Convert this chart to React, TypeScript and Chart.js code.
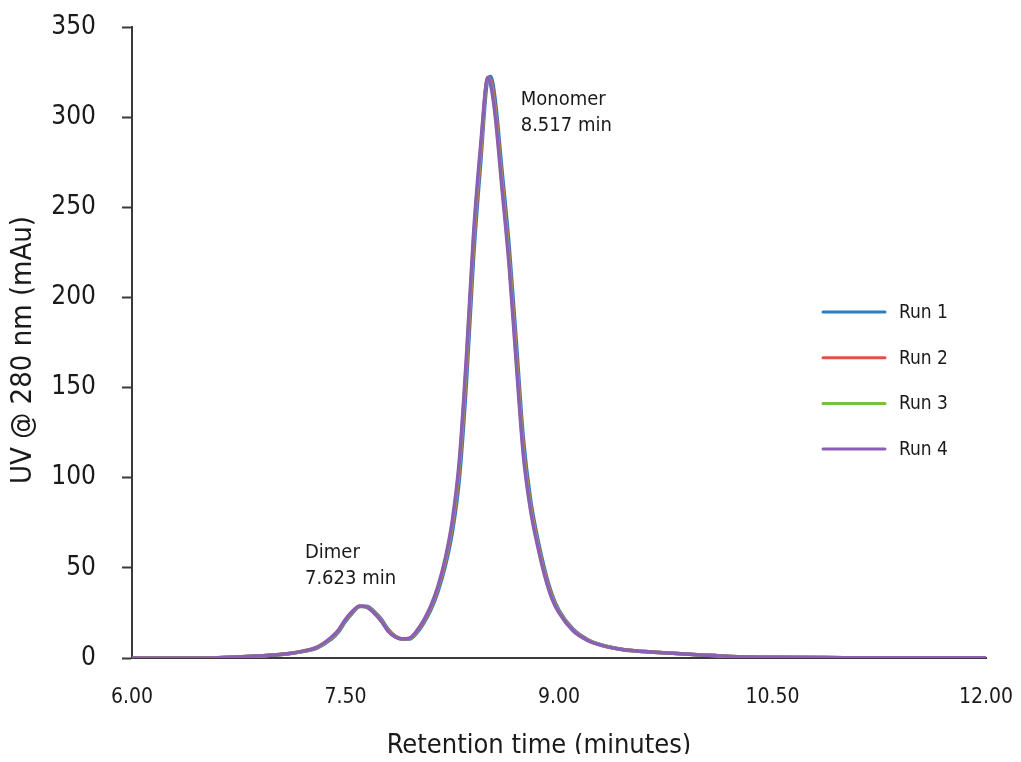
import React, { useEffect, useRef } from 'react';
import { Chart, registerables } from 'chart.js';

Chart.register(...registerables);

const FONT = "'DejaVu Sans Condensed', 'Liberation Sans Narrow', sans-serif";

const retentionTimes = [6.0, 6.3, 6.6, 6.8, 7.0, 7.1, 7.2, 7.3, 7.4, 7.45, 7.5, 7.55, 7.6, 7.65, 7.7, 7.75, 7.8, 7.85, 7.9, 7.95, 8.0, 8.05, 8.1, 8.15, 8.2, 8.25, 8.3, 8.35, 8.4, 8.45, 8.5, 8.52, 8.55, 8.6, 8.65, 8.7, 8.75, 8.8, 8.85, 8.9, 8.95, 9.0, 9.1, 9.2, 9.3, 9.45, 9.6, 9.8, 10.0, 10.2, 10.5, 11.0, 11.5, 12.0];

const run1 = [0, 0, 0.2, 0.75, 1.6, 2.35, 3.55, 5.5, 10.4, 14.3, 20.2, 25.1, 28.5, 28.7, 25.9, 21.7, 15.9, 12.1, 10.6, 10.5, 13.8, 19.4, 26.7, 36.9, 50.7, 69.4, 99.2, 152.9, 222, 274.7, 321, 322.5, 310.7, 270.2, 228.6, 175.6, 121.7, 88.1, 66.4, 49, 35.5, 26.4, 15.9, 10.3, 7.2, 4.7, 3.6, 2.6, 1.7, 0.9, 0.4, 0.2, 0.1, 0.1];
const run2 = [0, 0, 0.2, 0.8, 1.7, 2.4, 3.7, 5.8, 11.0, 14.9, 20.9, 25.6, 28.7, 28.5, 25.5, 21.1, 15.4, 11.9, 10.6, 10.8, 14.4, 20.2, 27.9, 38.5, 52.9, 72.7, 104.6, 160.5, 229, 279.9, 321.5, 320.3, 306.4, 265.1, 222.8, 169.3, 116.9, 85.1, 64.2, 47.3, 34.3, 25.7, 15.5, 10.1, 7.1, 4.7, 3.6, 2.6, 1.7, 0.9, 0.4, 0.2, 0.1, 0.1];
const run3 = [0, 0, 0.2, 0.8, 1.7, 2.5, 3.7, 5.9, 11.2, 15.2, 21.2, 25.8, 28.7, 28.3, 25.2, 20.8, 15.1, 11.7, 10.5, 10.9, 14.7, 20.6, 28.4, 39.2, 53.9, 74.4, 107.3, 164.2, 232.5, 282.4, 321.8, 319.1, 304.2, 262.6, 219.9, 166.2, 114.4, 83.5, 63.1, 46.4, 33.6, 25.4, 15.2, 9.9, 7.1, 4.6, 3.6, 2.6, 1.7, 0.9, 0.4, 0.2, 0.1, 0.1];
const run4 = [0, 0, 0.2, 0.8, 1.7, 2.5, 3.8, 6.0, 11.5, 15.5, 21.5, 26, 28.8, 28.2, 25, 20.5, 14.8, 11.6, 10.5, 11, 15, 21, 29, 40, 55, 76, 110, 168, 236, 285, 322, 318, 302, 260, 217, 163, 112, 82, 62, 45.5, 33, 25, 15, 9.8, 7, 4.6, 3.6, 2.6, 1.7, 0.9, 0.4, 0.2, 0.1, 0.1];

const runLabels = ['Run 1', 'Run 2', 'Run 3', 'Run 4'];
const runColors = ['#2c7dc4', '#e5514a', '#7cbf3a', '#8b5fb3'];

const xTickValues = [6, 7.5, 9, 10.5, 12];
const xTickLabels = ['6.00', '7.50', '9.00', '10.50', '12.00'];
const yTickValues = [0, 50, 100, 150, 200, 250, 300, 350];
const yTickLabels = ['0', '50', '100', '150', '200', '250', '300', '350'];

const peakNames = ['Dimer', 'Monomer'];
const peakTimesText = ['7.623 min', '8.517 min'];
const peakLabelX = [7.215, 8.731];
const peakLabelY = [55.6, 306.7];

const xTitle = 'Retention time (minutes)';
const yTitle = 'UV @ 280 nm (mAu)';

const overlayPlugin = {
  id: 'overlay',
  afterDraw(chart: any) {
    const ctx = chart.ctx;
    const xs = chart.scales.x;
    const ys = chart.scales.y;
    ctx.save();
    // legend
    chart.data.datasets.forEach((ds: any, i: number) => {
      const y = 304 + i * 45.7;
      ctx.strokeStyle = ds.borderColor;
      ctx.lineWidth = 3;
      ctx.lineCap = 'round';
      ctx.beginPath();
      ctx.moveTo(815, y);
      ctx.lineTo(877, y);
      ctx.stroke();
      ctx.fillStyle = '#1a1a1a';
      ctx.font = `19px ${FONT}`;
      ctx.textAlign = 'left';
      ctx.textBaseline = 'middle';
      ctx.fillText(ds.label, 891, y + 1);
    });
    // peak annotations
    ctx.font = `20px ${FONT}`;
    ctx.fillStyle = '#1a1a1a';
    ctx.textAlign = 'left';
    ctx.textBaseline = 'alphabetic';
    peakNames.forEach((name, i) => {
      const px = xs.getPixelForValue(peakLabelX[i]);
      const py = ys.getPixelForValue(peakLabelY[i]);
      ctx.fillText(name, px, py);
      ctx.fillText(peakTimesText[i], px, py + 26);
    });
    // axis titles
    ctx.textAlign = 'center';
    ctx.textBaseline = 'alphabetic';
    ctx.font = `27px ${FONT}`;
    ctx.fillText(xTitle, 531, 745);
    ctx.font = `29px ${FONT}`;
    ctx.translate(23, 342);
    ctx.rotate(-Math.PI / 2);
    ctx.fillText(yTitle, 0, 0);
    ctx.restore();
  },
};

export default function App() {
  const canvasRef = useRef<HTMLCanvasElement | null>(null);

  useEffect(() => {
    if (!canvasRef.current) return;
    const runs = [run1, run2, run3, run4];
    const chart = new Chart(canvasRef.current, {
      type: 'line',
      data: {
        datasets: runs.map((vals, i) => ({
          label: runLabels[i],
          data: retentionTimes.map((t, j) => ({ x: t, y: vals[j] })),
          borderColor: runColors[i],
          backgroundColor: runColors[i],
          borderWidth: 3.5,
          pointRadius: 0,
          cubicInterpolationMode: 'monotone' as const,
          fill: false,
          order: 4 - i,
        })),
      },
      options: {
        animation: false,
        responsive: true,
        maintainAspectRatio: false,
        devicePixelRatio: 1,
        layout: { padding: { left: 0, right: 27, top: 19, bottom: 0 } },
        plugins: {
          legend: { display: false },
          tooltip: { enabled: false },
          title: { display: false },
        },
        scales: {
          x: {
            type: 'linear',
            min: 6,
            max: 12,
            afterBuildTicks: (scale: any) => {
              scale.ticks = xTickValues.map((v) => ({ value: v }));
            },
            afterFit: (scale: any) => {
              scale.height = 104;
              scale.paddingLeft = 0;
              scale.paddingRight = 0;
            },
            grid: { display: true, drawOnChartArea: false, drawTicks: false },
            border: { display: true, color: '#3a3a3a', width: 2 },
            ticks: {
              autoSkip: false,
              maxRotation: 0,
              padding: 27,
              color: '#1a1a1a',
              font: { family: FONT, size: 21 },
              callback: (value: any) => {
                const idx = xTickValues.indexOf(Number(value));
                return idx >= 0 ? xTickLabels[idx] : '';
              },
            },
          },
          y: {
            type: 'linear',
            min: 0,
            max: 350,
            afterBuildTicks: (scale: any) => {
              scale.ticks = yTickValues.map((v) => ({ value: v }));
            },
            afterFit: (scale: any) => {
              scale.width = 124;
              scale.paddingTop = 0;
              scale.paddingBottom = 0;
            },
            grid: {
              display: true,
              drawOnChartArea: false,
              drawTicks: true,
              tickLength: 10,
              tickWidth: 2,
              tickColor: '#3a3a3a',
            },
            border: { display: true, color: '#3a3a3a', width: 2 },
            ticks: {
              autoSkip: false,
              padding: 26,
              color: '#1a1a1a',
              font: { family: FONT, size: 26 },
              callback: (value: any) => {
                const idx = yTickValues.indexOf(Number(value));
                return idx >= 0 ? yTickLabels[idx] : '';
              },
            },
          },
        },
      },
      plugins: [overlayPlugin],
    });
    return () => chart.destroy();
  }, []);

  return (
    <div style={{ width: 1005, height: 754, marginBottom: -8, position: 'relative', background: '#fff' }}>
      <canvas ref={canvasRef} />
    </div>
  );
}
